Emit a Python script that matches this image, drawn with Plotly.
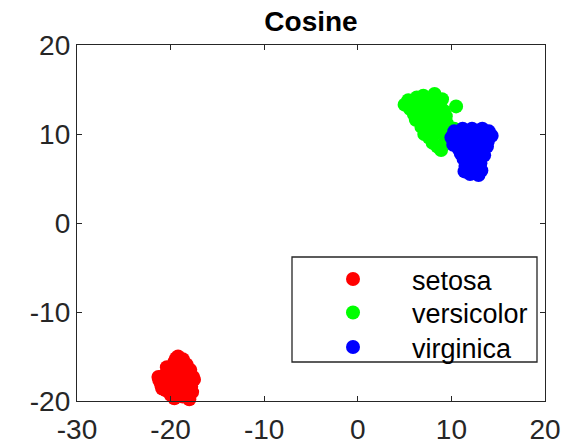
import plotly.graph_objects as go

# ---- data ----
setosa_x = [-19.2,-18.7,-19.6,-18.3,-19.0,-19.8,-18.6,-20.2,-19.3,-18.1,-17.6,-20.8,-21.2,-20.3,-19.5,-18.8,-18.0,-17.5,-21.0,-20.1,
            -19.3,-18.5,-17.8,-20.5,-19.7,-18.9,-18.2,-19.2,-18.0,-19.0,-19.9,-20.6,-18.4,-19.5,-18.7,-17.7,-20.0,-19.1,-18.5,-17.9,
            -20.9,-19.6,-18.9,-20.4,-17.9,-19.4,-18.3,-21.3,-20.0,-18.6]
setosa_y = [-15.0,-15.3,-15.6,-15.9,-16.0,-16.3,-16.5,-16.8,-16.9,-16.9,-17.3,-17.2,-17.7,-17.6,-17.5,-17.4,-17.7,-17.6,-18.2,-18.3,
            -18.1,-18.2,-18.4,-18.8,-18.9,-18.8,-19.1,-19.4,-19.8,-17.9,-17.0,-17.9,-17.0,-18.5,-19.5,-19.0,-19.3,-16.4,-15.8,-16.5,
            -18.6,-19.7,-17.0,-16.2,-17.9,-15.2,-18.7,-17.3,-17.7,-16.1]

versicolor_x = [5.0,5.4,5.6,6.0,6.3,6.4,6.8,7.0,7.2,7.5,7.8,8.2,8.0,8.5,8.7,9.0,9.2,6.0,6.6,7.0,
                7.4,7.9,8.3,6.8,7.3,7.8,8.3,8.8,7.1,7.6,8.1,8.6,9.0,8.0,8.5,8.9,9.3,9.6,10.5,5.8,
                6.5,7.6,8.8,9.5,10.0,10.4,6.2,7.5,9.4,10.3]
versicolor_y = [13.3,13.8,12.8,13.5,14.1,12.9,13.6,14.3,12.6,13.4,14.0,14.5,13.1,13.7,12.9,13.9,12.6,12.2,11.9,11.5,
                12.0,11.8,12.2,10.8,11.0,10.6,11.1,11.5,10.0,9.6,9.9,10.3,10.8,9.0,8.6,8.2,9.1,9.9,13.1,13.0,
                13.2,12.7,12.2,11.2,10.0,9.4,11.6,13.7,12.0,10.6]

virginica_x = [10.0,10.3,10.6,10.9,11.2,11.4,11.8,12.2,12.5,12.9,13.3,13.6,14.0,14.3,13.9,13.4,12.7,12.0,11.4,10.8,
               10.2,11.0,11.6,12.2,12.8,13.3,13.0,12.4,11.8,11.3,11.5,12.0,12.6,13.1,11.4,12.0,12.6,13.2,12.9,11.7,
               12.4,13.8,11.1,12.1,12.7,13.1,10.5,11.7,12.3,13.5]
virginica_y = [9.6,10.3,9.0,10.0,10.6,9.4,10.2,10.6,9.7,10.4,10.6,9.9,10.3,9.8,9.2,9.1,8.9,9.0,8.6,8.3,
               8.8,7.8,7.9,8.2,8.0,8.4,7.4,7.2,7.0,7.2,6.4,6.2,6.5,6.7,5.8,5.5,5.6,5.9,5.4,8.5,
               9.4,8.6,9.2,7.6,6.9,9.6,9.9,6.7,5.9,7.6]

names = ["setosa", "versicolor", "virginica"]
colors = ["#ff0000", "#00ff00", "#0000ff"]
xs = [setosa_x, versicolor_x, virginica_x]
ys = [setosa_y, versicolor_y, virginica_y]

x_ticks = [-30, -20, -10, 0, 10, 20]
y_ticks = [-20, -10, 0, 10, 20]

FONT = "Liberation Sans, Arial, Helvetica, sans-serif"
AX = "#262626"
L, R, T, B = 77, 19, 45, 47
PW, PH = 564 - L - R, 448 - T - B

legend_ids = ["legend", "legend2", "legend3"]
row_y = [279.5, 313, 347.5]  # legend row centres (px from top)

fig = go.Figure()
for n, c, x, y, lid in zip(names, colors, xs, ys, legend_ids):
    fig.add_trace(go.Scatter(x=x, y=y, mode="markers", name=n, legend=lid, cliponaxis=False,
                             marker=dict(color=c, size=14, line=dict(width=0))))

legend_common = dict(x=(294 - L) / PW, xanchor="left", yanchor="middle",
                     bgcolor="rgba(0,0,0,0)", borderwidth=0,
                     font=dict(size=27, color="black", family=FONT),
                     itemwidth=108)

fig.update_layout(
    width=564, height=448,
    margin=dict(l=L, r=R, t=T, b=B, autoexpand=False),
    paper_bgcolor="white", plot_bgcolor="white",
    font=dict(family=FONT, color=AX),
    title=dict(text="<b>Cosine</b>", x=(L + PW / 2) / 564, xanchor="center",
               y=1 - 21 / 448, yanchor="middle",
               font=dict(size=28, color="black", family=FONT)),
    showlegend=True,
)
for lid, ry in zip(legend_ids, row_y):
    fig.update_layout({lid: dict(legend_common, y=(401 - ry) / PH)})

fig.update_xaxes(range=[-30, 20], tickvals=x_ticks, ticktext=[str(v) for v in x_ticks],
                 showgrid=False, zeroline=False, showline=True, linecolor=AX, linewidth=1.3,
                 mirror="ticks", ticks="inside", ticklen=5, tickcolor=AX, automargin=False,
                 ticklabelstandoff=3, tickfont=dict(size=28, color=AX))
fig.update_yaxes(range=[-20, 20], tickvals=y_ticks, ticktext=[str(v) for v in y_ticks],
                 showgrid=False, zeroline=False, showline=True, linecolor=AX, linewidth=1.3,
                 mirror="ticks", ticks="inside", ticklen=5, tickcolor=AX, automargin=False,
                 tickfont=dict(size=28, color=AX))

# legend box (MATLAB style)
fig.add_shape(type="rect", xref="paper", yref="paper",
              x0=(292 - L) / PW, x1=(537 - L) / PW,
              y0=(401 - 362) / PH, y1=(401 - 257) / PH,
              line=dict(color=AX, width=1.3), fillcolor="white", layer="above")

fig.write_html("out.html")
